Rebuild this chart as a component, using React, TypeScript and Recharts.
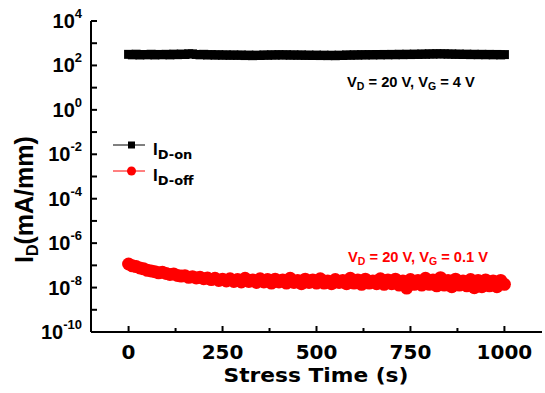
import React from 'react';
import { ComposedChart, Scatter, XAxis, YAxis, Legend, Customized } from 'recharts';

const stressTime = [
  0, 10, 20, 30, 40, 50, 60, 70, 80, 90,
  100, 110, 120, 130, 140, 150, 160, 170, 180, 190,
  200, 210, 220, 230, 240, 250, 260, 270, 280, 290,
  300, 310, 320, 330, 340, 350, 360, 370, 380, 390,
  400, 410, 420, 430, 440, 450, 460, 470, 480, 490,
  500, 510, 520, 530, 540, 550, 560, 570, 580, 590,
  600, 610, 620, 630, 640, 650, 660, 670, 680, 690,
  700, 710, 720, 730, 740, 750, 760, 770, 780, 790,
  800, 810, 820, 830, 840, 850, 860, 870, 880, 890,
  900, 910, 920, 930, 940, 950, 960, 970, 980, 990,
  1000,
];

// I_D-on (mA/mm)
const idOn = [
  315, 300, 320, 295, 310, 300, 318, 296, 312, 302,
  316, 298, 322, 305, 325, 310, 335, 330, 312, 300,
  316, 294, 308, 290, 304, 288, 300, 285, 298, 284,
  296, 278, 292, 275, 290, 280, 298, 286, 302, 290,
  306, 292, 304, 288, 300, 286, 298, 282, 294, 280,
  292, 278, 290, 276, 288, 274, 290, 280, 298, 286,
  302, 290, 306, 294, 308, 296, 310, 298, 312, 300,
  314, 302, 318, 305, 320, 308, 324, 312, 328, 316,
  334, 322, 338, 326, 336, 320, 330, 314, 326, 310,
  322, 306, 318, 304, 316, 302, 314, 300, 312, 298,
  308,
];

// I_D-off (mA/mm)
const idOff = [
  1.15e-7, 9.5e-8, 8.8e-8, 7.6e-8, 7.0e-8, 6.0e-8, 5.6e-8, 5.2e-8, 4.6e-8, 4.9e-8,
  4.3e-8, 3.9e-8, 4.1e-8, 3.5e-8, 3.3e-8, 3.4e-8, 2.9e-8, 3.1e-8, 2.7e-8, 2.9e-8,
  2.5e-8, 2.7e-8, 2.3e-8, 2.6e-8, 2.1e-8, 2.4e-8, 2.0e-8, 2.5e-8, 1.9e-8, 2.3e-8,
  1.8e-8, 2.6e-8, 1.9e-8, 2.2e-8, 1.7e-8, 2.5e-8, 1.8e-8, 2.3e-8, 1.6e-8, 2.4e-8,
  1.8e-8, 2.2e-8, 1.6e-8, 2.6e-8, 1.7e-8, 2.1e-8, 1.5e-8, 2.4e-8, 1.7e-8, 2.2e-8,
  1.6e-8, 2.5e-8, 1.6e-8, 2.0e-8, 1.5e-8, 2.3e-8, 1.7e-8, 2.1e-8, 1.5e-8, 2.6e-8,
  1.6e-8, 2.2e-8, 1.4e-8, 2.4e-8, 1.6e-8, 2.0e-8, 1.5e-8, 2.5e-8, 1.4e-8, 2.2e-8,
  1.5e-8, 2.4e-8, 1.3e-8, 2.0e-8, 9.5e-9, 2.3e-8, 1.4e-8, 2.1e-8, 1.3e-8, 2.6e-8,
  1.4e-8, 2.2e-8, 1.2e-8, 2.8e-8, 1.3e-8, 2.1e-8, 1.1e-8, 2.4e-8, 1.3e-8, 2.0e-8,
  1.2e-8, 2.3e-8, 9.8e-9, 2.1e-8, 1.1e-8, 2.2e-8, 1.2e-8, 2.0e-8, 1.1e-8, 2.1e-8,
  1.4e-8,
];

const xTickValues = [0, 125, 250, 375, 500, 625, 750, 875, 1000];
const xTickLabels = ['0', '', '250', '', '500', '', '750', '', '1000'];
const yTickValues = [1e-10, 1e-9, 1e-8, 1e-7, 1e-6, 1e-5, 1e-4, 1e-3, 1e-2, 1e-1, 1e0, 1e1, 1e2, 1e3, 1e4];
const yTickExponents = ['-10', '', '-8', '', '-6', '', '-4', '', '-2', '', '0', '', '2', '', '4'];

const seriesSubscripts = ['D-on', 'D-off'];
const seriesColors = ['#000000', '#ff0000'];

const onData = stressTime.map((t, i) => ({ t, v: idOn[i] }));
const offData = stressTime.map((t, i) => ({ t, v: idOff[i] }));

const ARIAL = "'Liberation Sans', Arial, sans-serif";
const DEJAVU = "'DejaVu Sans', sans-serif";

const BottomTick = (props: any) => {
  const { x, y, index } = props;
  const label = xTickLabels[index];
  const major = label !== '';
  return (
    <g>
      <line x1={x} x2={x} y1={y} y2={y - (major ? 6 : 4)} stroke="#000" strokeWidth={2} />
      {major && (
        <text x={x} y={y + 27} textAnchor="middle" fontFamily={DEJAVU} fontWeight="bold" fontSize={20} fill="#000">
          {label}
        </text>
      )}
    </g>
  );
};

const TopTick = (props: any) => {
  const { x, y } = props;
  return <line x1={x} x2={x} y1={y} y2={y + 5} stroke="#000" strokeWidth={2} />;
};

const LeftTick = (props: any) => {
  const { x, y, index } = props;
  const exp = yTickExponents[index];
  return (
    <g>
      <line x1={x} x2={x + 6} y1={y} y2={y} stroke="#000" strokeWidth={2} />
      {exp !== '' && (
        <text x={x - 9} y={y + 7} textAnchor="end" fontFamily={ARIAL} fontWeight="bold" fontSize={20} fill="#000">
          10
          <tspan dy={-10} fontSize={13}>
            {exp}
          </tspan>
        </text>
      )}
    </g>
  );
};

const SquareShape = (props: any) => {
  const { cx, cy } = props;
  return <rect x={cx - 4.5} y={cy - 4.5} width={9} height={9} fill={seriesColors[0]} />;
};

const CircleShape = (props: any) => {
  const { cx, cy } = props;
  return <circle cx={cx} cy={cy} r={6.5} fill={seriesColors[1]} />;
};

const renderLegend = () => (
  <svg width={130} height={56} style={{ display: 'block' }}>
    {seriesSubscripts.map((sub, i) => {
      const cy = 12 + i * 26;
      return (
        <g key={sub}>
          <line x1={8} x2={40} y1={cy} y2={cy} stroke={seriesColors[i]} strokeWidth={1} />
          {i === 0 ? (
            <rect x={23} y={cy - 3.5} width={7} height={7} fill={seriesColors[i]} />
          ) : (
            <circle cx={26.5} cy={cy} r={4.5} fill={seriesColors[i]} />
          )}
          <text x={48} y={cy + 10} fontFamily={ARIAL} fontWeight="bold" fontSize={17} fill="#000">
            I
            <tspan dy={4} fontSize={13} fontFamily={DEJAVU}>
              {sub}
            </tspan>
          </text>
        </g>
      );
    })}
  </svg>
);

const Annotations = () => (
  <g>
    <text
      transform="translate(33,263) rotate(-90)"
      fontFamily={ARIAL}
      fontWeight="bold"
      fontSize={25}
      fill="#000"
    >
      I
      <tspan dy={5} fontSize={16}>
        D
      </tspan>
      <tspan dy={-5}>(mA/mm)</tspan>
    </text>
    <text x={316} y={382} textAnchor="middle" fontFamily={DEJAVU} fontWeight="bold" fontSize={20} fill="#000" textLength={185} lengthAdjust="spacingAndGlyphs">
      Stress Time (s)
    </text>
    <text x={347} y={87} fontFamily={ARIAL} fontWeight="bold" fontSize={14.7} fill="#000">
      V<tspan dy={3} fontSize={10.5}>D</tspan>
      <tspan dy={-3}> = 20 V, V</tspan>
      <tspan dy={3} fontSize={10.5}>G</tspan>
      <tspan dy={-3}> = 4 V</tspan>
    </text>
    <text x={348} y={262} fontFamily={ARIAL} fontWeight="bold" fontSize={14.7} fill="#ff0000">
      V<tspan dy={3} fontSize={10.5}>D</tspan>
      <tspan dy={-3}> = 20 V, V</tspan>
      <tspan dy={3} fontSize={10.5}>G</tspan>
      <tspan dy={-3}> = 0.1 V</tspan>
    </text>
  </g>
);

export default function App() {
  return (
    <div style={{ position: 'absolute', left: 0, top: 0 }}>
      <ComposedChart width={545} height={393} margin={{ top: 21, right: 3, bottom: 0, left: 0 }}>
        <XAxis
          dataKey="t"
          type="number"
          domain={[-100, 1100]}
          ticks={xTickValues}
          interval={0}
          height={61}
          tickSize={0}
          tickMargin={0}
          tick={<BottomTick />}
          axisLine={{ stroke: '#000', strokeWidth: 2 }}
          allowDataOverflow
        />
        <XAxis
          xAxisId="top"
          orientation="top"
          type="number"
          domain={[-100, 1100]}
          ticks={xTickValues}
          interval={0}
          height={0}
          tickSize={0}
          tickMargin={0}
          tick={<TopTick />}
          axisLine={{ stroke: '#000', strokeWidth: 2 }}
          allowDataOverflow
        />
        <YAxis
          dataKey="v"
          type="number"
          scale="log"
          domain={[1e-10, 1e4]}
          ticks={yTickValues}
          interval={0}
          width={91}
          tickSize={0}
          tickMargin={0}
          tick={<LeftTick />}
          axisLine={{ stroke: '#000', strokeWidth: 2 }}
          allowDataOverflow
        />
        <YAxis
          yAxisId="right"
          orientation="right"
          type="number"
          scale="log"
          domain={[1e-10, 1e4]}
          width={0}
          tick={false}
          tickLine={false}
          axisLine={{ stroke: '#000', strokeWidth: 2 }}
          allowDataOverflow
        />
        <Scatter name="ID-on" data={onData} fill={seriesColors[0]} shape={<SquareShape />} isAnimationActive={false} />
        <Scatter name="ID-off" data={offData} fill={seriesColors[1]} shape={<CircleShape />} isAnimationActive={false} />
        <Legend
          layout="vertical"
          align="center"
          verticalAlign="middle"
          content={renderLegend}
          wrapperStyle={{ left: 105, top: 133, width: 130, height: 56 }}
        />
        <Customized component={<Annotations />} />
      </ComposedChart>
    </div>
  );
}
